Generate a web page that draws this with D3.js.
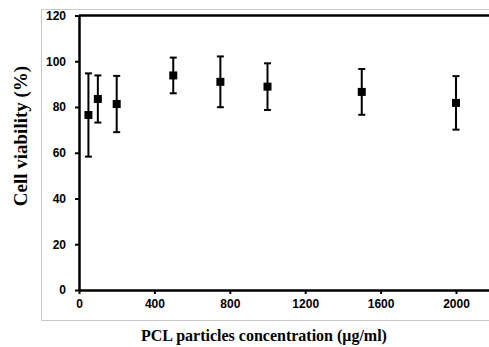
<!DOCTYPE html>
<html>
<head>
<meta charset="utf-8">
<script src="https://cdn.jsdelivr.net/npm/d3@7"></script>
<style>
  body { margin: 0; background: #fff; }
  #chart { width: 489px; height: 347px; }
</style>
</head>
<body>
<div id="chart"></div>
<script>
/** DATA */
const concentrations = [50, 100, 200, 500, 750, 1000, 1500, 2000];
const viability = [76.5, 83.5, 81.3, 93.8, 91.0, 88.9, 86.6, 81.8];
const errors = [18.2, 10.3, 12.3, 7.8, 11.1, 10.2, 10.0, 11.7];
const xTicks = [0, 400, 800, 1200, 1600, 2000];
const yTicks = [0, 20, 40, 60, 80, 100, 120];

let width = 489, height = 347;
d3.select("#chart").html("");

/** SVG */
let svg = d3.select("#chart")
  .append("svg")
  .attr("width", width)
  .attr("height", height);

// light gray frame around the chart area
svg.append("path")
  .attr("d", `M${width},9.5 H41.5 V320.5 H${width}`)
  .attr("fill", "none")
  .attr("stroke", "#c8c8c8")
  .attr("stroke-width", 1);

/** SCALES */
let x = d3.scaleLinear().domain([0, 2200]).range([79, 493.7]);
let y = d3.scaleLinear().domain([0, 120]).range([290, 15.5]);

let tickFont = "'Liberation Sans', Arial, sans-serif";

/** AXES */
let xAxis = svg.append("g")
  .attr("transform", `translate(0,${y(0)})`)
  .call(d3.axisBottom(x).tickValues(xTicks).tickFormat(d3.format("d"))
    .tickSize(4).tickPadding(5).tickSizeOuter(0));
let yAxis = svg.append("g")
  .attr("transform", `translate(${x(0)},0)`)
  .call(d3.axisLeft(y).tickValues(yTicks).tickFormat(d3.format("d"))
    .tickSize(4).tickPadding(9).tickSizeOuter(0));

[xAxis, yAxis].forEach(a => {
  a.select(".domain").attr("stroke", "#000").attr("stroke-width", 2.5);
  a.selectAll(".tick line").attr("stroke", "#000").attr("stroke-width", 2);
  a.selectAll(".tick text")
    .attr("fill", "#000")
    .style("font-family", tickFont)
    .style("font-weight", "bold")
    .style("font-size", "12px");
});

// top border line
svg.append("line")
  .attr("x1", x(0)).attr("x2", width)
  .attr("y1", y(120)).attr("y2", y(120))
  .attr("stroke", "#000")
  .attr("stroke-width", 2.5);

/** ERROR BARS */
let data = concentrations.map((c, i) => ({c: c, v: viability[i], e: errors[i]}));
let bars = svg.append("g").selectAll("g")
  .data(data).enter()
  .append("g");
bars.append("line")
  .attr("x1", d => x(d.c)).attr("x2", d => x(d.c))
  .attr("y1", d => y(d.v + d.e)).attr("y2", d => y(d.v - d.e))
  .attr("stroke", "#000").attr("stroke-width", 2);
bars.append("line")
  .attr("x1", d => x(d.c) - 3.5).attr("x2", d => x(d.c) + 3.5)
  .attr("y1", d => y(d.v + d.e)).attr("y2", d => y(d.v + d.e))
  .attr("stroke", "#000").attr("stroke-width", 2);
bars.append("line")
  .attr("x1", d => x(d.c) - 3.5).attr("x2", d => x(d.c) + 3.5)
  .attr("y1", d => y(d.v - d.e)).attr("y2", d => y(d.v - d.e))
  .attr("stroke", "#000").attr("stroke-width", 2);

/** MARKERS */
svg.append("g").selectAll("rect")
  .data(data).enter()
  .append("rect")
  .attr("x", d => x(d.c) - 4)
  .attr("y", d => y(d.v) - 4)
  .attr("width", 8)
  .attr("height", 8)
  .attr("fill", "#000");

/** AXIS TITLES */
svg.append("text")
  .text("PCL particles concentration (μg/ml)")
  .attr("x", 264)
  .attr("y", 341)
  .attr("text-anchor", "middle")
  .style("font-family", "'Liberation Serif', 'Times New Roman', serif")
  .style("font-weight", "bold")
  .style("font-size", "16px");

svg.append("text")
  .text("Cell viability (%)")
  .attr("transform", "translate(27,136) rotate(-90)")
  .attr("text-anchor", "middle")
  .style("font-family", "'Liberation Serif', 'Times New Roman', serif")
  .style("font-weight", "bold")
  .style("font-size", "19px");
</script>
</body>
</html>
